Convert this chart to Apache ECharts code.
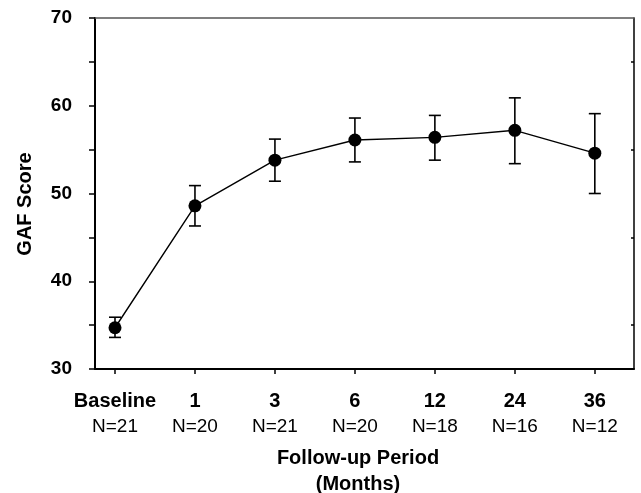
<!DOCTYPE html>
<html>
<head>
<meta charset="utf-8">
<script src="https://cdn.jsdelivr.net/npm/echarts@6/dist/echarts.min.js"></script>
<style>html,body{margin:0;padding:0;background:#fff}#c{width:641px;height:493px}</style>
</head>
<body>
<div id="c"></div>
<script>
const periods = ['Baseline', '1', '3', '6', '12', '24', '36'];
const sampleSizes = ['N=21', 'N=20', 'N=21', 'N=20', 'N=18', 'N=16', 'N=12'];
const gafMean = [34.7, 48.6, 53.8, 56.1, 56.4, 57.2, 54.6];
const gafUpper = [35.9, 50.9, 56.2, 58.6, 58.9, 60.9, 59.1];
const gafLower = [33.6, 46.3, 51.4, 53.6, 53.8, 53.4, 50.0];
const yTicks = [30, 40, 50, 60, 70];

const chart = echarts.init(document.getElementById('c'), null, {renderer: 'canvas'});
const idx = periods.map((_, i) => i);
const FONT = 'Liberation Sans, Arial, Helvetica, sans-serif';

chart.setOption({
  animation: false,
  backgroundColor: '#fff',
  grid: {left: 95, right: 7, top: 18, bottom: 124, containLabel: false, outerBoundsMode: 'none'},
  xAxis: [{
    type: 'value', min: -0.25, max: 6.49,
    splitLine: {show: false},
    axisLine: {show: true, onZero: false, lineStyle: {color: '#000', width: 2}},
    axisTick: {show: true, customValues: idx, length: 5, lineStyle: {color: '#000', width: 1.5}},
    axisLabel: {
      customValues: idx, margin: 20,
      formatter: v => '{b|' + periods[Math.round(v)] + '}\n{n|' + sampleSizes[Math.round(v)] + '}',
      rich: {
        b: {fontFamily: FONT, fontWeight: 'bold', fontSize: 20, color: '#000', lineHeight: 25},
        n: {fontFamily: FONT, fontSize: 19, color: '#000', lineHeight: 25}
      }
    },
    name: 'Follow-up Period\n(Months)',
    nameLocation: 'middle', nameGap: 76,
    nameTextStyle: {fontFamily: FONT, fontWeight: 'bold', fontSize: 20, color: '#000', lineHeight: 26, padding: [0, 13, 0, 0]}
  }, {
    type: 'value', min: -0.25, max: 6.49, position: 'top',
    splitLine: {show: false},
    axisLine: {show: true, onZero: false, lineStyle: {color: '#555', width: 1.5}},
    axisTick: {show: false}, axisLabel: {show: false}
  }],
  yAxis: [{
    type: 'value', min: 30, max: 70, interval: 5,
    splitLine: {show: false},
    axisLine: {show: true, onZero: false, lineStyle: {color: '#000', width: 2}},
    axisTick: {show: true, length: 6, lineStyle: {color: '#000', width: 1.5}},
    axisLabel: {
      margin: 23, customValues: yTicks,
      fontFamily: FONT, fontWeight: 'bold', fontSize: 19, color: '#000'
    },
    name: 'GAF Score', nameLocation: 'middle', nameGap: 60, nameRotate: 90,
    nameTextStyle: {fontFamily: FONT, fontWeight: 'bold', fontSize: 20, color: '#000', padding: [0, 21, 0, 0]}
  }, {
    type: 'value', min: 30, max: 70, position: 'right',
    splitLine: {show: false},
    axisLine: {show: true, onZero: false, lineStyle: {color: '#000', width: 1.5}},
    axisTick: {show: true, inside: true, length: 3, customValues: [35, 45, 55, 65], lineStyle: {color: '#000', width: 1.5}},
    axisLabel: {show: false}
  }],
  series: [{
    type: 'custom',
    xAxisIndex: 0, yAxisIndex: 0,
    data: idx.map(i => [i, gafLower[i], gafUpper[i]]),
    renderItem: function (params, api) {
      const x = api.value(0);
      const lo = api.coord([x, api.value(1)]);
      const hi = api.coord([x, api.value(2)]);
      const hw = 6;
      const style = {stroke: '#000', lineWidth: 1.6};
      return {
        type: 'group',
        children: [
          {type: 'line', shape: {x1: lo[0], y1: lo[1], x2: hi[0], y2: hi[1]}, style},
          {type: 'line', shape: {x1: hi[0] - hw, y1: hi[1], x2: hi[0] + hw, y2: hi[1]}, style},
          {type: 'line', shape: {x1: lo[0] - hw, y1: lo[1], x2: lo[0] + hw, y2: lo[1]}, style}
        ]
      };
    },
    z: 2
  }, {
    type: 'line',
    xAxisIndex: 0, yAxisIndex: 0,
    data: idx.map(i => [i, gafMean[i]]),
    symbol: 'circle', symbolSize: 13,
    itemStyle: {color: '#000'},
    lineStyle: {color: '#000', width: 1.4},
    z: 3
  }]
});
</script>
</body>
</html>
